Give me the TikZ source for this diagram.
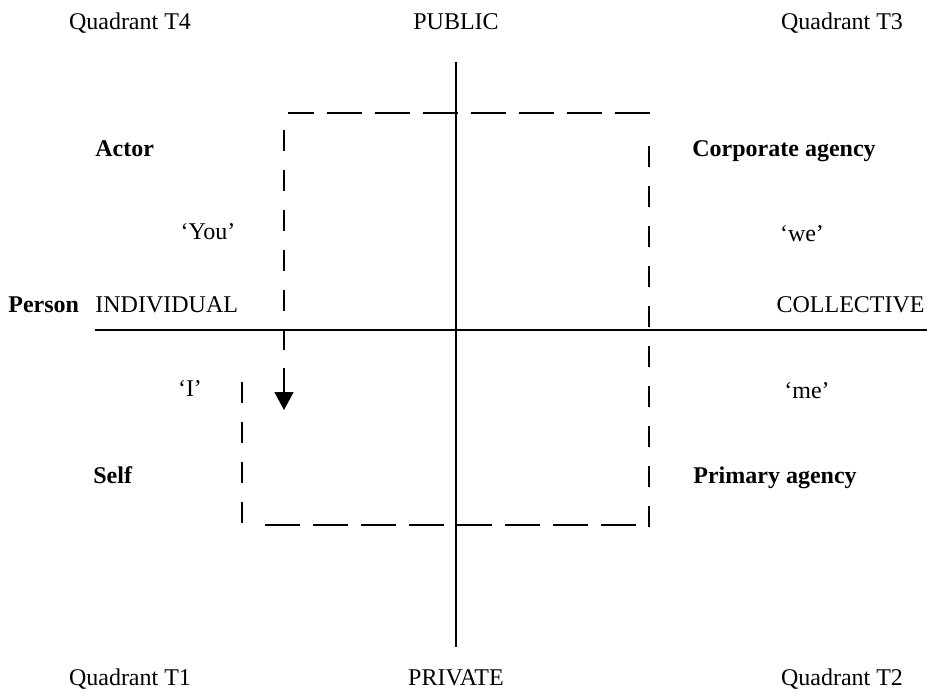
\documentclass[tikz,border=0pt]{standalone}
\usepackage{fontspec}
\setmainfont{Liberation Serif}
\usepackage{tikz}
\usetikzlibrary{arrows.meta}

\begin{document}
\begin{tikzpicture}[
  x=0.5pt,y=-0.5pt,
  lbl/.style={inner sep=0pt,anchor=base,font=\fontsize{12}{14}\selectfont},
  lblb/.style={lbl,font=\fontsize{12}{14}\selectfont\bfseries},
  axis/.style={line width=1pt},
  hdash/.style={line width=0.8pt,dash pattern=on 17.5pt off 6.5pt},
  vdash/.style={line width=0.8pt,dash pattern=on 10.5pt off 9.5pt},
  arr/.style={-{Triangle[width=9.5pt,length=9pt]},line width=0.8pt}]
  \useasboundingbox (0,0) rectangle (927,693);
  % axes
  \coordinate (pubEnd) at (456,62);
  \coordinate (privEnd) at (456,647);
  \coordinate (indEnd) at (95,330);
  \coordinate (colEnd) at (927,330);
  \draw[axis] (pubEnd) -- (privEnd);
  \draw[axis] (indEnd) -- (colEnd);
  % corner labels
  \node[lbl] (q4) at (130,29) {Quadrant T4};
  \node[lbl] (pub) at (456,29) {PUBLIC};
  \node[lbl] (q3) at (842,29) {Quadrant T3};
  \node[lbl] (q1) at (130,685) {Quadrant T1};
  \node[lbl] (priv) at (456,685) {PRIVATE};
  \node[lbl] (q2) at (842,685) {Quadrant T2};
  % left side
  \node[lblb,anchor=base west] (actor) at (95,156) {Actor};
  \node[lbl] (you) at (208,239) {`You'};
  \node[lblb,anchor=base west] (person) at (8,312) {Person};
  \node[lbl,anchor=base west] (indiv) at (95,312) {INDIVIDUAL};
  \node[lbl] (i) at (190,396) {`I'};
  \node[lblb,anchor=base west] (self) at (93,483) {Self};
  % right side
  \node[lblb,anchor=base west] (corp) at (692,156) {Corporate agency};
  \node[lbl] (we) at (802,241) {`we'};
  \node[lbl,anchor=base east] (coll) at (925,312) {COLLECTIVE};
  \node[lbl] (me) at (807,398) {`me'};
  \node[lblb,anchor=base west] (prim) at (693,483) {Primary agency};
  % dashed cycle
  \coordinate (selfTop) at (242,382);
  \coordinate (selfBot) at (242,525);
  \coordinate (botL) at (265,525);
  \coordinate (botR) at (640,525);
  \coordinate (rightBot) at (649,527);
  \coordinate (rightTop) at (649,128);
  \coordinate (topR) at (650,113);
  \coordinate (topL) at (288,113);
  \coordinate (leftTop) at (284,130);
  \coordinate (leftBot) at (284,350);
  \coordinate (arrStart) at (284,368);
  \coordinate (arrEnd) at (284,410);
  \draw[vdash] (selfTop) -- (selfBot);
  \draw[hdash] (botL) -- (botR);
  \draw[vdash] (rightBot) -- (rightTop);
  \draw[hdash] (topR) -- (topL);
  \draw[vdash] (leftTop) -- (leftBot);
  \draw[arr] (arrStart) -- (arrEnd);
\end{tikzpicture}
\end{document}
